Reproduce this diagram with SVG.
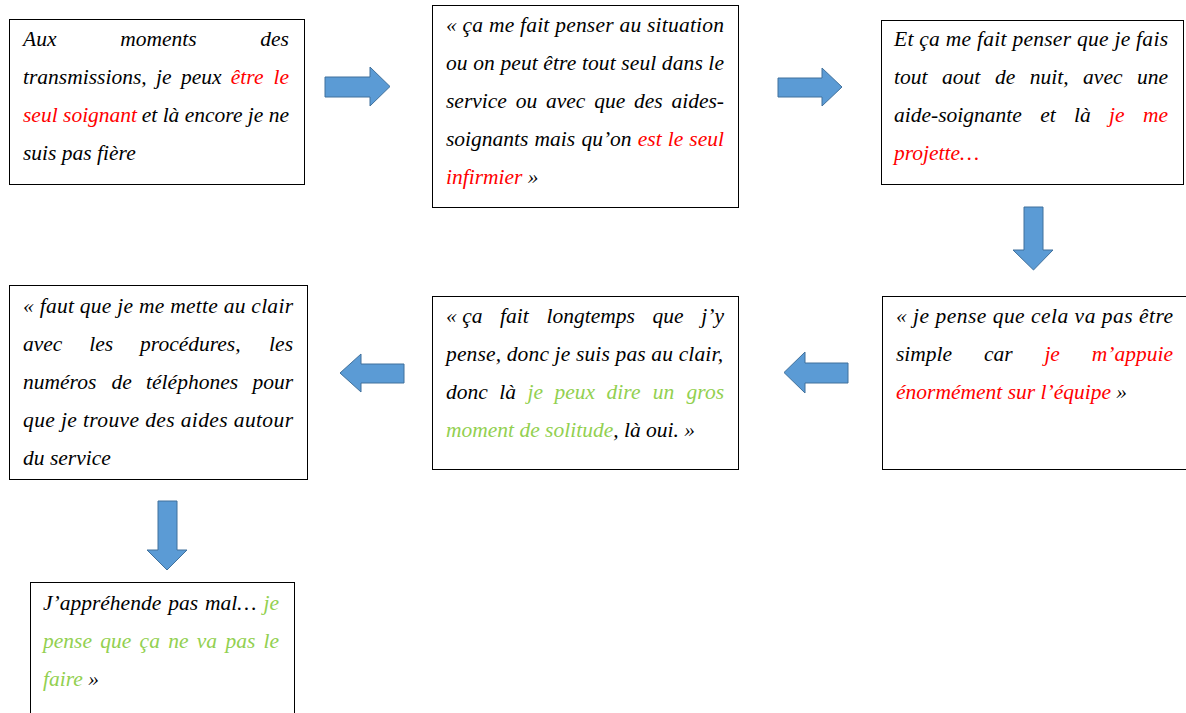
<svg xmlns="http://www.w3.org/2000/svg" width="1186" height="713" viewBox="0 0 1186 713">
<style>
.box{fill:#fff;stroke:#000;stroke-width:1}
.t{font-family:"Liberation Serif","Times New Roman",serif;font-style:italic;font-size:21.5px;fill:#000}
.r{fill:#FF0000}
.g{fill:#92D050}
.e{text-anchor:end}
.arr{fill:#5B9BD5;stroke:#41719C;stroke-width:1}
</style>
<rect width="1186" height="713" fill="#fff"/>
<g id="connectors">
<polygon class="arr" points="325,77 370,77 370,67 390,86.5 370,106 370,97 325,97"/>
<polygon class="arr" points="778,78 822,78 822,68 842,87 822,106 822,97 778,97"/>
<polygon class="arr" points="1024,207 1043,207 1043,250 1053,250 1033.5,270 1013,250 1024,250"/>
<polygon class="arr" points="848,363 805,363 805,352 784,372.5 805,393 805,383 848,383"/>
<polygon class="arr" points="404,364 361,364 361,354 340,373 361,392 361,383 404,383"/>
<polygon class="arr" points="158,501 177,501 177,550 187,550 167,570 147,550 158,550"/>
</g>
<g id="node1">
<rect class="box" x="9.5" y="19.5" width="295" height="165"/>
<text class="t" y="46"><tspan x="23">Aux</tspan><tspan x="120.2">moments</tspan><tspan x="289" class="e">des</tspan></text>
<text class="t" y="84"><tspan x="23">transmissions,</tspan><tspan x="156">je</tspan><tspan x="180.9">peux</tspan><tspan x="230.8" class="r">être</tspan><tspan x="289" class="r e">le</tspan></text>
<text class="t" y="122"><tspan x="23" class="r">seul soignant</tspan></text>
<text class="t e" x="289" y="122">et là encore je ne</text>
<text class="t" x="23" y="160">suis pas fière</text>
</g>
<g id="node2">
<rect class="box" x="432.5" y="5.5" width="306" height="202"/>
<text class="t" x="446" y="32" textLength="278" lengthAdjust="spacing">« ça me fait penser au situation</text>
<text class="t" x="446" y="70" textLength="278" lengthAdjust="spacing">ou on peut être tout seul dans le</text>
<text class="t" y="108"><tspan x="446">service</tspan><tspan x="515.7">ou</tspan><tspan x="546">avec</tspan><tspan x="594.2">que</tspan><tspan x="634">des</tspan><tspan x="724" class="e">aides-</tspan></text>
<text class="t" y="146"><tspan x="446">soignants</tspan><tspan x="534.6">mais</tspan><tspan x="581.4">qu’on</tspan><tspan x="637.8" class="r">est</tspan><tspan x="667.8" class="r">le</tspan><tspan x="724" class="r e">seul</tspan></text>
<text class="t" x="446" y="184"><tspan class="r">infirmier</tspan> »</text>
</g>
<g id="node3">
<rect class="box" x="881.5" y="20.5" width="302" height="164"/>
<text class="t" x="894" y="46" textLength="274" lengthAdjust="spacing">Et ça me fait penser que je fais</text>
<text class="t" y="84"><tspan x="894">tout</tspan><tspan x="942.1">aout</tspan><tspan x="994.9">de</tspan><tspan x="1029.8">nuit,</tspan><tspan x="1083.1">avec</tspan><tspan x="1168" class="e">une</tspan></text>
<text class="t" y="122"><tspan x="894">aide-soignante</tspan><tspan x="1040.2">et</tspan><tspan x="1074">là</tspan><tspan x="1109.1" class="r">je</tspan><tspan x="1168" class="r e">me</tspan></text>
<text class="t r" x="894" y="160">projette…</text>
</g>
<g id="node4">
<rect class="box" x="882.5" y="296.5" width="310" height="173"/>
<text class="t" x="896" y="323" textLength="277" lengthAdjust="spacing">« je pense que cela va pas être</text>
<text class="t" y="361"><tspan x="896">simple</tspan><tspan x="983.9">car</tspan><tspan x="1044.4" class="r">je</tspan><tspan x="1173" class="r e">m’appuie</tspan></text>
<text class="t" x="896" y="399"><tspan class="r">énormément sur l’équipe</tspan> »</text>
</g>
<g id="node5">
<rect class="box" x="432.5" y="296.5" width="306" height="173"/>
<text class="t" y="323"><tspan x="446">« ça</tspan><tspan x="500.1">fait</tspan><tspan x="546.5">longtemps</tspan><tspan x="652.6">que</tspan><tspan x="724" class="e">j’y</tspan></text>
<text class="t" x="446" y="361" textLength="277" lengthAdjust="spacing">pense, donc je suis pas au clair,</text>
<text class="t" y="399"><tspan x="446">donc</tspan><tspan x="499.3">là</tspan><tspan x="527.5" class="g">je</tspan><tspan x="554.5" class="g">peux</tspan><tspan x="606.6" class="g">dire</tspan><tspan x="652.7" class="g">un</tspan><tspan x="724" class="g e">gros</tspan></text>
<text class="t" x="446" y="437"><tspan class="g">moment de solitude</tspan>, là oui. »</text>
</g>
<g id="node6">
<rect class="box" x="9.5" y="285.5" width="298" height="194"/>
<text class="t" x="23" y="313" textLength="270" lengthAdjust="spacing">« faut que je me mette au clair</text>
<text class="t" y="351"><tspan x="23">avec</tspan><tspan x="89.3">les</tspan><tspan x="140.1">procédures,</tspan><tspan x="293" class="e">les</tspan></text>
<text class="t" y="389"><tspan x="23">numéros</tspan><tspan x="111.4">de</tspan><tspan x="146.1">téléphones</tspan><tspan x="293" class="e">pour</tspan></text>
<text class="t" x="23" y="427" textLength="270" lengthAdjust="spacing">que je trouve des aides autour</text>
<text class="t" x="23" y="465">du service</text>
</g>
<g id="node7">
<rect class="box" x="30.5" y="582.5" width="264" height="140"/>
<text class="t" y="610"><tspan x="43">J’appréhende</tspan><tspan x="168.2">pas</tspan><tspan x="205.1">mal…</tspan><tspan x="279" class="g e">je</tspan></text>
<text class="t g" y="648"><tspan x="43">pense</tspan><tspan x="100.3">que</tspan><tspan x="139.6">ça</tspan><tspan x="168.2">ne</tspan><tspan x="196.8">va</tspan><tspan x="225.4">pas</tspan><tspan x="279" class="e">le</tspan></text>
<text class="t" x="43" y="686"><tspan class="g">faire</tspan> »</text>
</g>
</svg>
